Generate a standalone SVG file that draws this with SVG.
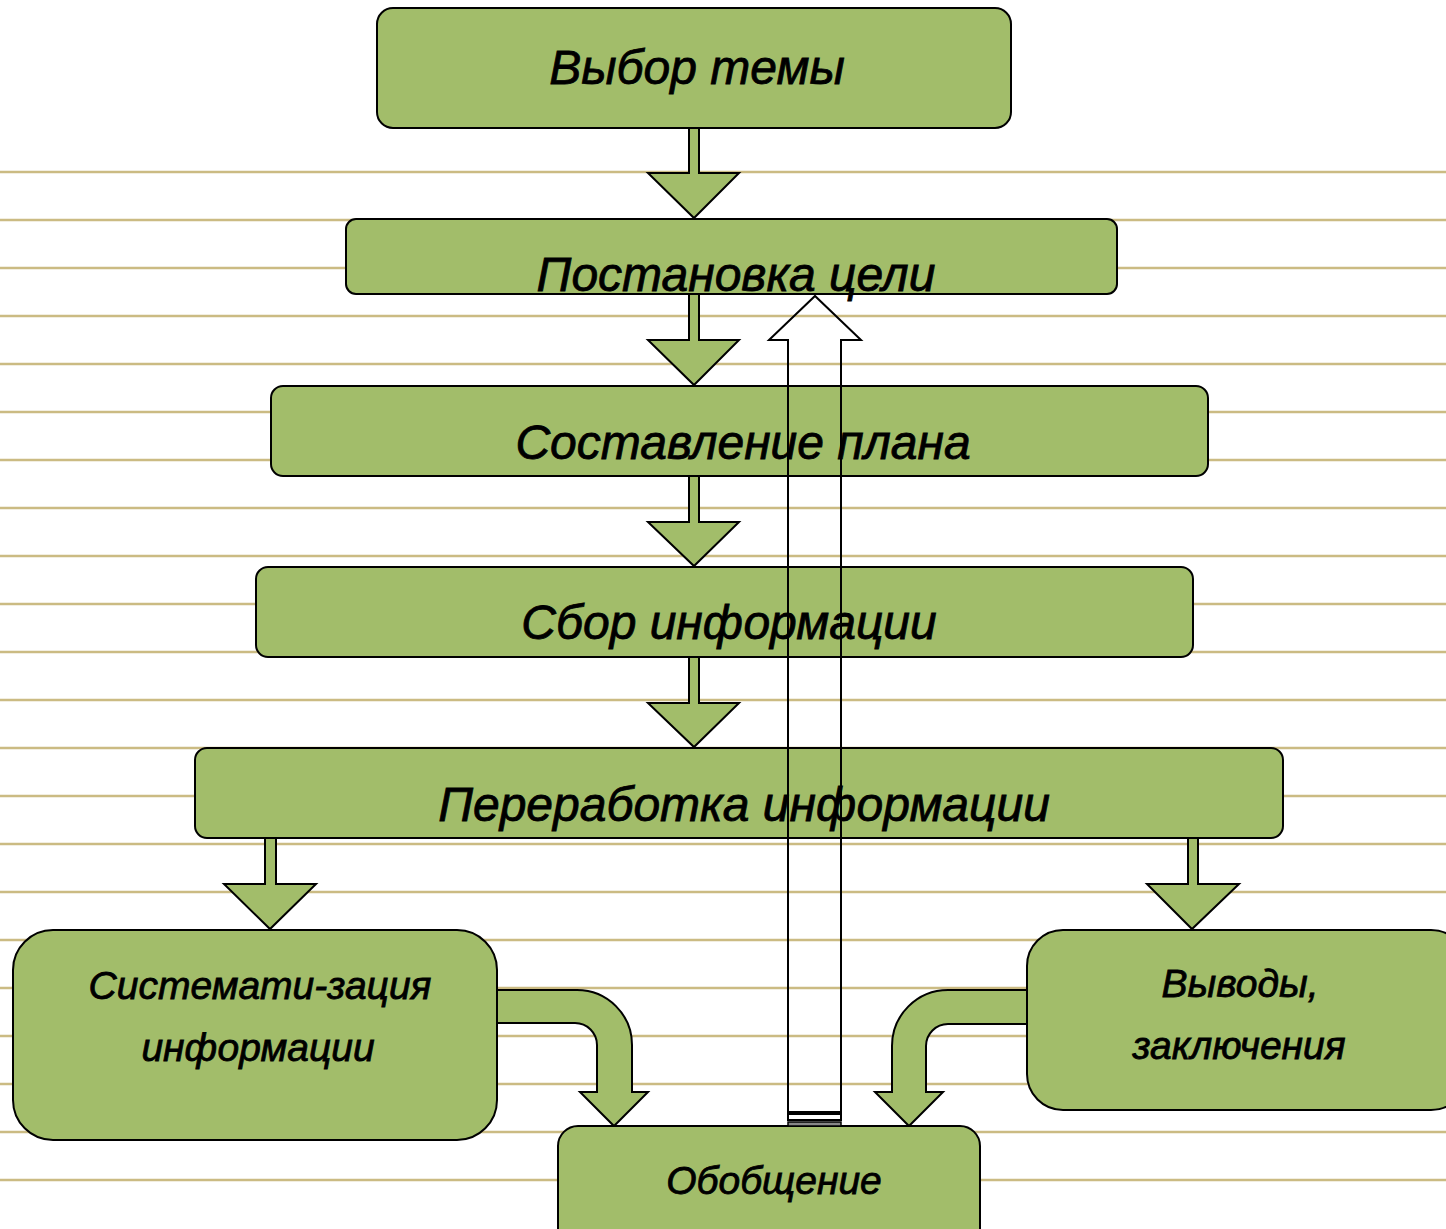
<svg xmlns="http://www.w3.org/2000/svg" width="1446" height="1229" viewBox="0 0 1446 1229">
<style>
.bg{fill:#ffffff}
.rule{stroke:#CBBB83;stroke-width:2.5}
.node{fill:#A2BD6A;stroke:#000;stroke-width:2}
.arr{fill:#A2BD6A;stroke:#000;stroke-width:2;stroke-linejoin:miter}
.up{fill:none;stroke:#000;stroke-width:2}
.t{font-family:"Liberation Sans","DejaVu Sans",sans-serif;font-style:italic;fill:#000;stroke:#000;stroke-width:0.8;text-anchor:middle}
.big{font-size:48px}
.mid{font-size:39px}
</style>
<rect class="bg" x="0" y="0" width="1446" height="1229"/>
<g id="rules">
<line class="rule" x1="0" y1="172" x2="1446" y2="172"/>
<line class="rule" x1="0" y1="220" x2="1446" y2="220"/>
<line class="rule" x1="0" y1="268" x2="1446" y2="268"/>
<line class="rule" x1="0" y1="316" x2="1446" y2="316"/>
<line class="rule" x1="0" y1="364" x2="1446" y2="364"/>
<line class="rule" x1="0" y1="412" x2="1446" y2="412"/>
<line class="rule" x1="0" y1="460" x2="1446" y2="460"/>
<line class="rule" x1="0" y1="508" x2="1446" y2="508"/>
<line class="rule" x1="0" y1="556" x2="1446" y2="556"/>
<line class="rule" x1="0" y1="604" x2="1446" y2="604"/>
<line class="rule" x1="0" y1="652" x2="1446" y2="652"/>
<line class="rule" x1="0" y1="700" x2="1446" y2="700"/>
<line class="rule" x1="0" y1="748" x2="1446" y2="748"/>
<line class="rule" x1="0" y1="796" x2="1446" y2="796"/>
<line class="rule" x1="0" y1="844" x2="1446" y2="844"/>
<line class="rule" x1="0" y1="892" x2="1446" y2="892"/>
<line class="rule" x1="0" y1="940" x2="1446" y2="940"/>
<line class="rule" x1="0" y1="988" x2="1446" y2="988"/>
<line class="rule" x1="0" y1="1036" x2="1446" y2="1036"/>
<line class="rule" x1="0" y1="1084" x2="1446" y2="1084"/>
<line class="rule" x1="0" y1="1132" x2="1446" y2="1132"/>
<line class="rule" x1="0" y1="1180" x2="1446" y2="1180"/>
</g>
<g id="connectors">
<path class="arr" d="M689,128 V173 H648 L694,218 L739,173 H699 V128 Z"/>
<path class="arr" d="M689,294 V340 H648 L694,385 L739,340 H699 V294 Z"/>
<path class="arr" d="M689,476 V522 H648 L694,566 L739,522 H699 V476 Z"/>
<path class="arr" d="M689,657 V703 H648 L694,747 L739,703 H699 V657 Z"/>
<path class="arr" d="M265,838 V884 H224 L270,929 L316,884 H276 V838 Z"/>
<path class="arr" d="M1188,838 V884 H1147 L1192,929 L1239,884 H1198 V838 Z"/>
<path class="arr" d="M497,990 H577 A55,55 0 0 1 632,1045 V1092 H648 L614,1126 L580,1092 H597 V1045 A22,22 0 0 0 575,1023 H497 Z"/>
<path class="arr" d="M1027,990 H948 A56,56 0 0 0 892,1046 V1092 H875 L909,1126 L943,1092 H926 V1046 A22,22 0 0 1 948,1024 H1027 Z"/>
</g>
<g id="n1"><rect class="node" x="377" y="8" width="634" height="120" rx="16"/><text class="t big" x="697" y="84">Выбор темы</text></g>
<g id="n2"><rect class="node" x="346" y="219" width="771" height="75" rx="10"/><text class="t big" x="736" y="291">Постановка цели</text></g>
<g id="n3"><rect class="node" x="271" y="386" width="937" height="90" rx="12"/><text class="t big" x="743" y="459">Составление плана</text></g>
<g id="n4"><rect class="node" x="256" y="567" width="937" height="90" rx="12"/><text class="t big" x="729" y="639">Сбор информации</text></g>
<g id="n5"><rect class="node" x="195" y="748" width="1088" height="90" rx="12"/><text class="t big" x="744" y="821">Переработка информации</text></g>
<g id="n6"><rect class="node" x="13" y="930" width="484" height="210" rx="40"/><text class="t mid" x="260" y="999">Системати-зация</text><text class="t mid" x="258" y="1061">информации</text></g>
<g id="n7"><rect class="node" x="1027" y="930" width="440" height="180" rx="36"/><text class="t mid" x="1240" y="997">Выводы,</text><text class="t mid" x="1239" y="1059">заключения</text></g>
<g id="n8"><rect class="node" x="558" y="1126" width="422" height="130" rx="20"/><text class="t mid" x="774" y="1194">Обобщение</text></g>
<g id="backArrow">
<path class="up" d="M788,1112 V340 H769 L815,296 L861,340 H841 V1112 Z"/>
<rect x="788" y="1114" width="53" height="6" fill="none" stroke="#000" stroke-width="2"/>
<rect x="788" y="1122" width="53" height="4" fill="#888" stroke="#000" stroke-width="1.5"/>
</g>
</svg>
